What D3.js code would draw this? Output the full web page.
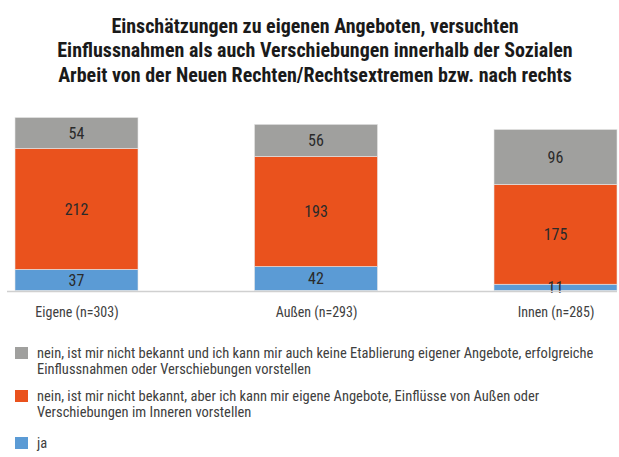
<!DOCTYPE html>
<html><head><meta charset="utf-8">
<script src="https://cdn.jsdelivr.net/npm/d3@7"></script>
<style>
html,body{margin:0;padding:0;background:#fff;}
svg text{font-family:'Roboto Condensed','Liberation Sans Narrow','Arial Narrow',Roboto,sans-serif;}
</style></head>
<body><svg id="c" width="619" height="457"></svg>
<script>
const titleLines = [
  "Einschätzungen zu eigenen Angeboten, versuchten",
  "Einflussnahmen als auch Verschiebungen innerhalb der Sozialen",
  "Arbeit von der Neuen Rechten/Rechtsextremen bzw. nach rechts"
];
const categories = ["Eigene (n=303)", "Außen (n=293)", "Innen (n=285)"];
const seriesKeys = ["ja", "vorstellbar", "nein"];
const jaValues = [37, 42, 11];
const vorstellbarValues = [212, 193, 175];
const neinValues = [54, 56, 96];
const seriesColors = ["#5B9BD5", "#EA521D", "#A0A09E"];
const legendLines = [
  ["nein, ist mir nicht bekannt und ich kann mir auch keine Etablierung eigener Angebote, erfolgreiche", "Einflussnahmen oder Verschiebungen vorstellen"],
  ["nein, ist mir nicht bekannt, aber ich kann mir eigene Angebote, Einflüsse von Außen oder", "Verschiebungen im Inneren vorstellen"],
  ["ja"]
];
const legendColors = ["#A0A09E", "#EA521D", "#5B9BD5"];

const svg = d3.select("#c");
const data = categories.map((c, i) => ({cat: c, ja: jaValues[i], vorstellbar: vorstellbarValues[i], nein: neinValues[i]}));
const stack = d3.stack().keys(seriesKeys)(data);

const x = d3.scalePoint().domain(categories).range([76.5, 555.5]);
const barW = 123;
const y = d3.scaleLinear().domain([0, d3.max(data, d => d.ja + d.vorstellbar + d.nein)]).range([290.5, 117.5]);

// title
svg.append("text").attr("x", 315).attr("y", 33).attr("text-anchor", "middle")
  .attr("font-size", 20).attr("font-weight", "bold").attr("fill", "#1a1a1a")
  .selectAll("tspan").data(titleLines).join("tspan")
  .attr("x", 315).attr("dy", (d, i) => i === 0 ? 0 : 24.3).text(d => d);

// bars
const g = svg.append("g");
stack.forEach((layer, li) => {
  g.append("g").attr("fill", seriesColors[li]).selectAll("rect").data(layer).join("rect")
    .attr("x", d => x(d.data.cat) - barW / 2)
    .attr("width", barW)
    .attr("y", d => y(d[1]))
    .attr("height", d => y(d[0]) - y(d[1]))
    .attr("stroke", "#e6e6e6").attr("stroke-width", 0.6);
});
// labels
stack.forEach((layer) => {
  g.append("g").selectAll("text").data(layer).join("text")
    .attr("x", d => x(d.data.cat))
    .attr("y", d => (y(d[0]) + y(d[1])) / 2)
    .attr("dy", "0.36em")
    .attr("text-anchor", "middle").attr("font-size", 16).attr("fill", "#2a2a2a")
    .text(d => d[1] - d[0]);
});

// axis
const xAxis = d3.axisBottom(x).tickSize(0).tickPadding(16);
const ax = svg.append("g").attr("transform", "translate(0,291.5)").call(xAxis);
ax.select(".domain").remove();
ax.selectAll("text").attr("font-size", 14).attr("fill", "#404040");
svg.append("line").attr("x1", 7).attr("x2", 617).attr("y1", 291.5).attr("y2", 291.5)
  .attr("stroke", "#d0d0d0").attr("stroke-width", 1.5);

// legend
const leg = svg.append("g");
const legTops = [347, 390, 437];
legendLines.forEach((lines, i) => {
  leg.append("rect").attr("x", 15).attr("y", legTops[i]).attr("width", 13).attr("height", 12).attr("fill", legendColors[i]);
  leg.append("text").attr("x", 37).attr("y", legTops[i] + 10.5).attr("font-size", 14.5).attr("fill", "#404040")
    .selectAll("tspan").data(lines).join("tspan").attr("x", 37).attr("dy", (d, j) => j === 0 ? 0 : 16.5).text(d => d);
});
</script></body></html>
